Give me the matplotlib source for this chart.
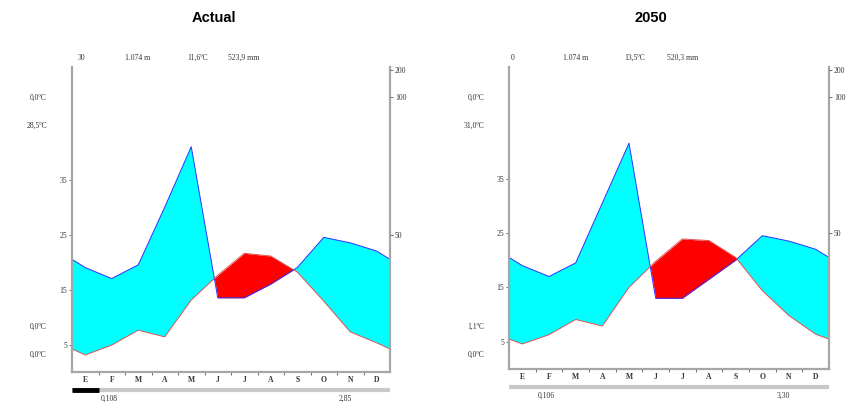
import numpy as np
import matplotlib
matplotlib.use("Agg")
import matplotlib.pyplot as plt
import matplotlib.transforms as mtransforms

# climate diagram data
months = ['E', 'F', 'M', 'A', 'M', 'J', 'J', 'A', 'S', 'O', 'N', 'D']

temp_actual = [3.1, 4.9, 7.6, 6.4, 13.1, 17.6, 21.6, 21.1, 18.2, 12.9, 7.3, 5.3]
prec_actual = [38, 34, 39, 60, 82, 27, 27, 32, 38, 49, 47, 44]

temp_2050 = [4.6, 6.3, 9.1, 7.9, 15.0, 19.8, 23.9, 23.6, 20.5, 14.4, 9.8, 6.4]
prec_2050 = [38, 34, 39, 61, 83, 26, 26, 33, 40, 49, 47, 44]

header_actual = ['30', '1.074 m', '11,6ºC', '523,9 mm']
header_2050 = ['0', '1.074 m', '13,5ºC', '520,3 mm']
side_actual = ['0,0ºC', '28,5ºC', '0,0ºC', '0,0ºC']
side_2050 = ['0,0ºC', '31,0ºC', '1,1ºC', '0,0ºC']
foot_actual = ['0,108', '2,85']
foot_2050 = ['0,106', '3,30']
frost_actual = [0]   # months with black bar
frost_2050 = []

temp_ticks = [5, 15, 25, 35]
prec_ticks = [50, 100, 200]

W, H = 858, 407
serif = 'Liberation Serif'
grey = '#a6a6a6'


def prec_scale(mm):
    mm = np.asarray(mm, dtype=float)
    return np.where(mm <= 100, mm / 2.0, 50 + (mm - 100) / 20.0)


def climate(fig, box, title, title_x, temp, prec, header, hdr_x, side, foot, frost):
    x0, x1, ytop, ybot = box
    ax = fig.add_axes([x0 / W, (H - ybot) / H, (x1 - x0) / W, (ybot - ytop) / H])
    ax.set_xlim(0, 12)
    ax.set_ylim(0, 55.5)

    # wrap the curves to the plot edges (mean of Dec and Jan)
    t = np.array(temp, dtype=float)
    p = prec_scale(prec)
    xs = np.concatenate([[0], np.arange(12) + 0.5, [12]])
    tt = np.concatenate([[(t[0] + t[-1]) / 2], t, [(t[0] + t[-1]) / 2]])
    pp = np.concatenate([[(p[0] + p[-1]) / 2], p, [(p[0] + p[-1]) / 2]])

    ax.fill_between(xs, tt, pp, where=pp >= tt, interpolate=True, color='#00ffff', lw=0)
    ax.fill_between(xs, tt, pp, where=pp < tt, interpolate=True, color='#ff0000', lw=0)
    ax.plot(xs, pp, color='#3030ff', lw=0.7)
    ax.plot(xs, tt, color='#e05050', lw=0.7)

    for s in ['left', 'right', 'bottom']:
        ax.spines[s].set_color(grey)
        ax.spines[s].set_linewidth(1.6)
    ax.spines['top'].set_visible(False)

    ax.set_yticks(temp_ticks)
    ax.set_yticklabels([str(v) for v in temp_ticks], fontsize=5.5, family=serif, color='#333333')
    ax.tick_params(axis='y', length=2.5, width=0.6, color='#555555', pad=1)

    ax.set_xticks(np.arange(12) + 0.5)
    ax.set_xticklabels(months, fontsize=5.5, family=serif, color='#333333', fontweight='bold')
    ax.set_xticks(np.arange(1, 12), minor=True)
    ax.tick_params(axis='x', which='major', length=0, pad=3)
    ax.tick_params(axis='x', which='minor', length=2.5, width=0.6, color='#555555')

    ax2 = ax.twinx()
    ax2.set_ylim(0, 55.5)
    ax2.set_yticks(prec_scale(prec_ticks))
    ax2.set_yticklabels([str(v) for v in prec_ticks], fontsize=5.5, family=serif, color='#333333')
    ax2.tick_params(axis='y', length=2.5, width=0.6, color='#555555', pad=1)
    for s in ax2.spines.values():
        s.set_visible(False)

    fig.text(title_x / W, (H - 18) / H, title, ha='center', va='center',
             fontsize=10.5, fontweight='bold', family='Liberation Sans')

    # header line
    px = (x1 - x0) / 12.0
    for hx, s in zip(hdr_x, header):
        ax.text((hx - x0) / px, 1 + 9.0 / (ybot - ytop), s, transform=ax.get_xaxis_transform(),
                ha='center', va='center', fontsize=5.5, family=serif, color='#333333')

    # side labels on the left
    side_y = [98, 126, 327, 355]
    for sy, s in zip(side_y, side):
        fig.text((x0 - 25) / W, (H - sy) / H, s, ha='right', va='center',
                 fontsize=5.5, family=serif, color='#333333')

    # bottom bar with frost months
    trans = mtransforms.blended_transform_factory(ax.transData, ax.transAxes)
    bar_y = -18.0 / (ybot - ytop)
    ax.plot([0, 12], [bar_y, bar_y], color='#c8c8c8', lw=3, transform=trans,
            clip_on=False, solid_capstyle='butt')
    for m in frost:
        ax.plot([m, m + 1], [bar_y, bar_y], color='black', lw=3.5, transform=trans,
                clip_on=False, solid_capstyle='butt')
    foot_x = [1.4, 10.3]
    for fx, s in zip(foot_x, foot):
        ax.text(fx, -27.0 / (ybot - ytop), s, transform=trans, ha='center', va='center',
                fontsize=5.5, family=serif, color='#333333')
    return ax


fig = plt.figure(figsize=(W / 100, H / 100), dpi=100)
climate(fig, (72, 390, 67, 372), 'Actual', 214, temp_actual, prec_actual,
        header_actual, [81, 138, 198, 244], side_actual, foot_actual, frost_actual)
climate(fig, (509, 829, 67, 369), '2050', 651, temp_2050, prec_2050,
        header_2050, [513, 576, 635, 683], side_2050, foot_2050, frost_2050)

fig.savefig('out.png', dpi=100)
